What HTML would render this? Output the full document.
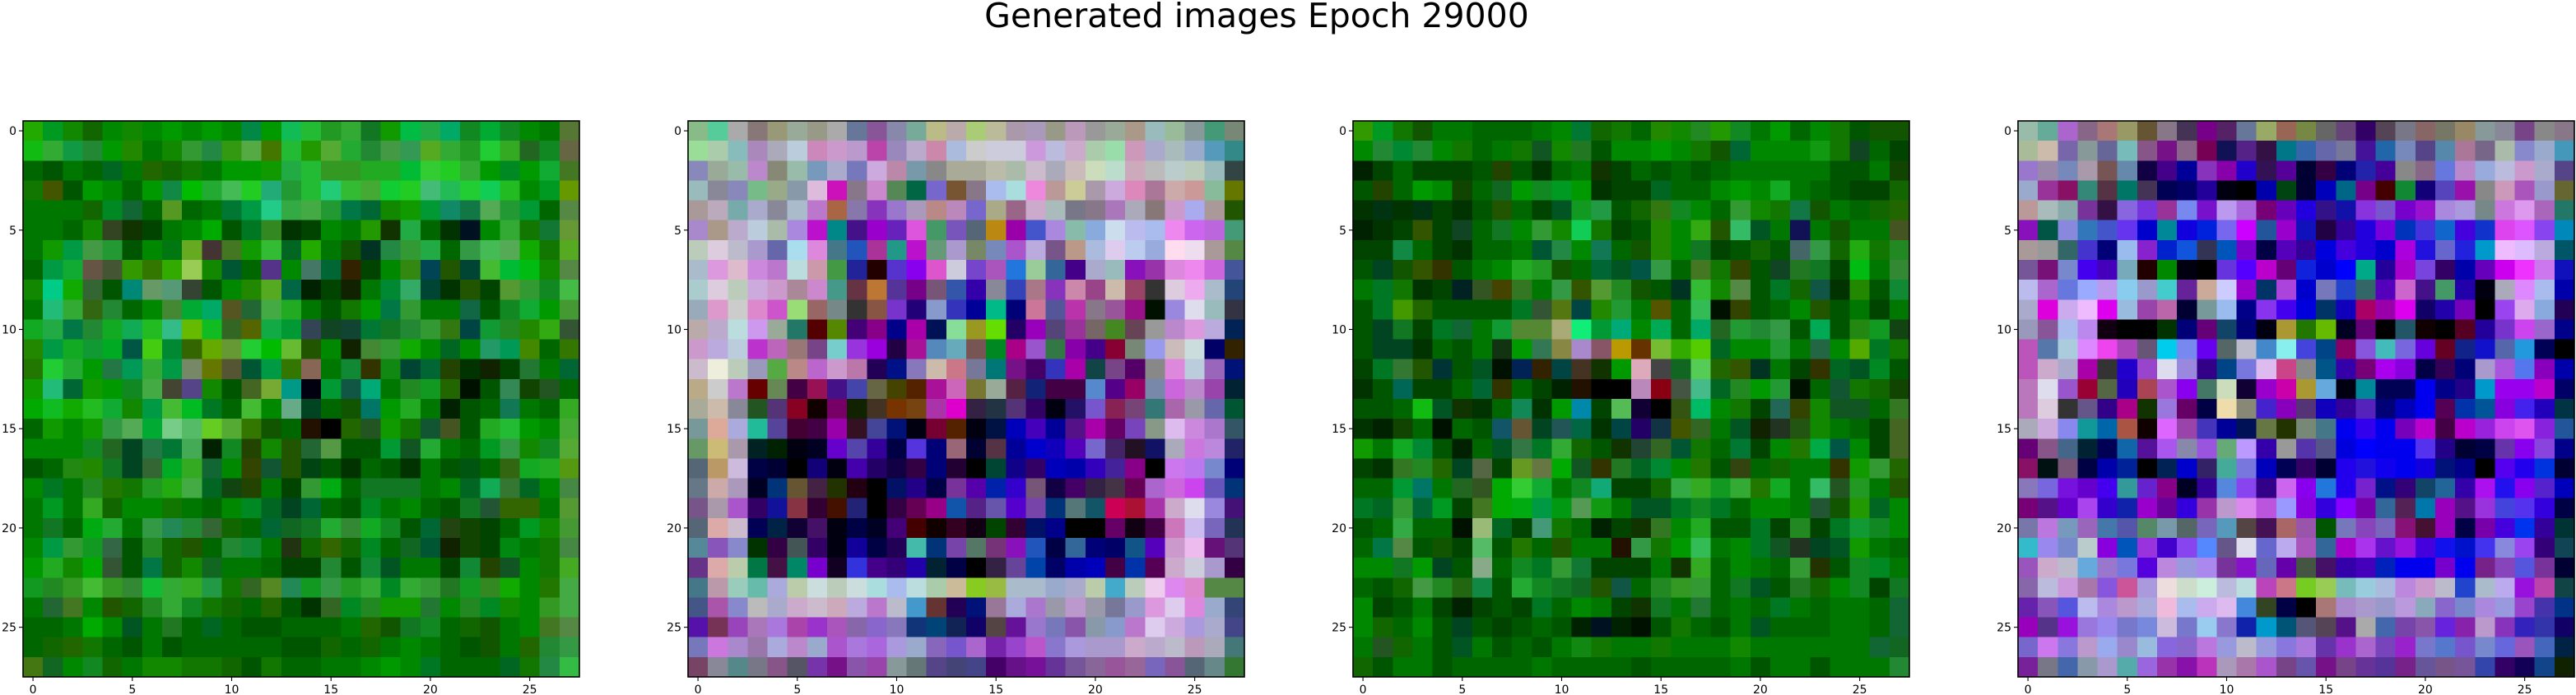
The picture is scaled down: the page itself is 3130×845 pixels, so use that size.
<!DOCTYPE html>
<html>
<head>
<meta charset="utf-8">
<style>
html,body{margin:0;padding:0;background:#fff;}
svg{display:block;}
text{font-family:"DejaVu Sans","Liberation Sans",sans-serif;fill:#000;}
</style>
</head>
<body>
<svg id="fig" width="3130" height="845" viewBox="0 0 3130 845" xmlns="http://www.w3.org/2000/svg">
<rect x="0" y="0" width="3130" height="845" fill="#fff"/>
<text x="1527" y="33" font-size="41" text-anchor="middle">Generated images Epoch 29000</text>
</svg>
<script>
const tickValues = [0, 5, 10, 15, 20, 25];
const gridSize = 28;
const img1 = [
"2a0 092 180 160 080 180 080 090 080 090 080 084 090 1b5 2b3 292 3a3 172 190 0b4 2a4 0a6 182 0a3 182 080 070 573",
"1b1 3a3 194 283 090 280 070 180 393 284 391 5a4 470 2b3 290 5a3 2a3 283 494 395 5a2 3a3 292 2c3 3a2 262 182 664",
"060 050 070 060 062 070 260 160 170 070 090 090 190 2a4 2b3 392 392 2a2 2a2 0b3 3c3 2c2 3a3 090 082 090 1a3 472",
"170 450 050 090 080 060 090 184 0b0 2a3 4b5 2c2 2a7 293 2b3 2c7 3b3 4a3 1c3 2c2 4b7 2b5 2c3 1c5 2b2 080 092 690",
"070 070 070 160 082 163 060 592 060 070 073 094 2c8 3a4 4a4 293 074 063 180 190 093 186 174 5a5 293 093 060 584",
"070 070 060 180 342 130 040 070 080 0a0 050 072 382 030 040 080 070 290 130 2a4 060 030 012 080 3a3 170 173 693",
"070 190 094 494 293 050 080 071 6a2 433 472 190 3b3 062 2a0 070 150 032 284 393 2a4 060 394 4b5 5a5 1a0 170 5a2",
"060 094 1a3 654 453 390 370 3a0 9c5 180 053 060 538 080 476 063 320 040 080 381 045 250 043 4b3 0b3 0b1 180 584",
"180 0c8 1a0 363 050 087 696 597 343 050 080 280 5a2 064 020 040 120 070 083 3a6 043 030 250 040 593 393 182 4b4",
"070 2b7 3a3 361 283 060 080 483 0a3 0a6 552 263 4a4 2a2 070 050 170 090 074 393 070 070 164 050 182 1a3 090 493",
"1a2 2a4 074 283 1a2 1a5 2b2 3b8 6b0 1b2 362 560 1a4 093 345 142 143 073 172 283 393 371 044 193 282 280 3a1 353",
"280 094 1a2 193 0a2 054 4c1 083 360 6a0 693 2c3 0b0 6b3 250 080 120 483 393 1a0 080 062 080 296 095 480 060 370",
"270 2c3 2a3 090 274 095 3a3 094 786 670 553 053 094 370 865 070 183 330 181 043 063 240 030 120 040 273 070 063",
"190 2b7 063 190 090 182 4a4 443 548 180 050 462 7a3 098 001 093 154 0a7 070 282 192 260 010 050 385 140 252 060",
"0a0 1b2 1a0 2b2 1a3 180 094 4b3 0b2 072 060 4b3 080 6a8 042 060 150 076 090 2a2 070 020 050 060 175 070 060 3a2",
"060 190 080 190 394 5a5 0a3 7c8 5b6 6c2 5a3 370 150 060 210 000 260 252 190 170 153 452 050 2a2 2b3 090 080 4a3",
"080 080 080 182 262 042 274 073 4a5 020 182 240 180 250 263 594 050 050 093 152 2a3 070 060 092 394 180 182 5a3",
"050 060 281 280 172 042 363 0a2 3a2 163 080 340 153 250 041 050 030 060 050 030 070 050 051 060 361 1a2 2a2 591",
"080 072 070 282 270 170 292 2a1 4a4 062 141 240 070 040 393 0a1 060 172 172 172 070 080 062 1a5 373 062 080 484",
"070 092 070 3a2 160 080 080 170 070 060 080 082 062 042 063 060 050 082 070 080 060 050 172 253 360 360 070 593",
"070 172 060 0a1 2a3 070 394 285 283 363 160 060 063 162 172 2a3 383 1a2 182 050 063 241 140 040 060 092 180 493",
"080 094 393 192 364 050 282 160 250 060 283 183 070 231 160 360 160 082 060 162 053 120 140 040 081 070 170 484",
"090 2a2 180 0a0 353 050 074 160 180 162 070 070 060 040 040 283 050 183 052 070 070 040 183 240 152 080 170 4a2",
"192 282 392 4b3 392 383 1b3 3a3 3a2 294 170 362 582 285 192 394 292 3a3 082 3a3 393 272 192 382 1a0 080 270 4a4",
"070 263 472 080 250 160 282 3a3 182 170 160 060 260 050 030 362 082 282 190 190 273 080 282 082 180 080 392 4a4",
"060 060 070 0a0 080 052 070 272 060 062 060 050 050 060 060 060 070 260 150 172 182 060 160 150 070 080 472 584",
"060 160 260 170 060 050 070 050 060 060 060 060 060 050 050 160 060 160 070 080 070 060 050 150 070 260 283 394",
"471 162 080 182 160 070 180 180 170 170 160 050 170 060 060 070 070 080 090 080 072 060 060 060 062 170 284 3b4"
];
const img2 = [
"8b8 5c9 aaa 877 997 9a9 998 aaa 679 859 88a 7a9 bb8 baa ac7 bb9 a9a a9b 998 b9b 999 9a9 a98 9bb 9b9 899 497 787",
"9d9 aca 8bb a8b aab bcd c8b c9c b9c b4a 98b bac c8a abd ccc ccd ccd c9d bbd cac aca 9da c9b aac abb 9ac 59b 388",
"88b 9a9 9ba b8c 887 9ba 79b aac 77b cad b8a 79a 888 aa9 aa9 bba aba cbc aab cbb cdb bdc cab bbb bcc bcb 9bb 344",
"9bb 889 88b 7b8 9a8 89a dbd c1b 878 c8c 585 064 76c 753 878 abe add e8d b99 cc9 a9a cad d8b a79 caa c99 8b9 670",
"a99 bab 7aa aac 889 abc b7c a64 87a 83b 97c a9b b88 b8b 76c aa8 968 cac abb 778 878 a7b aab 877 c9c aae a99 250",
"a8c a98 bac bcd aba a8d b1c 088 418 90c 62b d5d 496 75b 567 b81 90a 45c a8d 8ba 8ad cde bbe abe e8e c6e b6d 497",
"bcb dcd bbc a9c 66a ade d8d 478 25b a39 298 b1c 697 a9c 786 78b a5c bad 758 b98 abd dce bce 9ad fde ede a99 584",
"abc d9d dbc c8d b7c bdd c9a 494 229 200 53c 80e d5c ccd 74c a5b 27d 9c9 369 408 aac 9bb 81b 93a d8d e8e c6d 459",
"acc dcd bcb cad c9c a89 c8c 498 634 b73 539 708 757 35a 30a 889 34b a78 83b c8a 948 cba 946 333 dcd eae abc 247",
"9ab d9c ccc d8c c5c 9d7 966 788 333 854 73c 207 89c 33b 009 0b8 007 c79 559 b3a 878 959 918 010 98d dde 9bb 334",
"baa bac bdd c9e 9a9 276 500 580 407 808 008 a0a 015 8d9 992 6d0 206 90b 547 939 766 482 645 999 b8c d9d bad 025",
"c9c bad bcd b3c b6b 977 748 7cc 93d 90d 204 a19 58b 6ab 755 082 a08 95c 374 80a 408 803 787 99e cbb cdd 006 320",
"cbc eed bcb 99b 5a4 b88 b6c c9c b7a 205 018 87b cba c78 779 077 718 406 33b a0a 144 748 506 888 d8d bcd 96b 017",
"ba8 ccc b7c 600 685 404 915 418 44a 664 440 520 a19 c6b 773 9a9 524 127 404 404 58c 508 906 78a c6d b8c 94a 023",
"aa9 cba 889 252 537 802 100 706 120 432 730 741 a3a d0c 324 234 537 306 001 216 75c 825 747 377 a6a 99a 66a 053",
"799 da9 aad 2b9 549 403 404 90a 312 449 017 001 703 520 001 014 00b 40b 009 518 a0a 606 74b 898 dbe c8d a7c 356",
"696 cb7 a9a 022 020 001 002 60c 54a 309 004 53d 007 967 003 534 009 00c 10b 50b 76c 426 212 116 aab c7d b8d 226",
"567 b96 cbd 004 003 000 107 001 40a 206 104 304 007 203 000 043 108 306 00b 00a 30b 429 808 000 c7e b7e 78c 007",
"678 caa a9b 002 037 653 424 230 201 000 016 208 004 739 50a 02a 30c 757 104 406 324 434 605 a6c c6d c4e 65b 037",
"758 a9a a5c 306 119 834 303 410 227 000 304 605 908 15a 528 65a 50c 74a 037 577 156 c05 a13 a3a cac dde 98d 417",
"567 daa cbc 005 024 103 416 001 004 002 407 400 100 302 101 040 303 016 008 000 000 606 101 404 c7b cbe 76b 235",
"589 85b 88c 030 304 455 306 001 109 004 205 4ba 037 74a 576 737 81b 25b 004 369 007 006 158 50b c9c ebe 617 537",
"638 daa bca 074 414 086 70c 102 33d 408 307 20a 023 004 000 324 649 04a 006 00a 00b 404 03a 505 cac ccd a9c 304",
"478 b9a 9cb 6ba aad bca cdd bcb cdd add abe bdd aca cb9 8c2 9b4 abc abc 9ac aac bca 4ac bcb ece d8e d8c 584",
"458 a5a 88c bbb aac cac cbc cab bad b7c bbc 49c 633 205 017 979 aad a7c 99a b9c 99a 779 99c d9d dce d8d 9ac 347",
"51a 735 94b a7b a7d a4a 93c a5b 86a 86c 87b 137 047 125 106 544 619 97c 77b 85a 89a 89c b7c dce cad a9d aac 448",
"77b c7d a8c 97a aad b8c 9ac a5c a7d a6d a9d 9ac 86b 75c a6c 72a 94c b5c 87c a9d a9c a9c cac bac bbc b9b aab 477",
"746 889 588 778 858 556 73a 718 85a 94a 899 677 548 447 448 406 618 719 639 759 869 959 969 76b 859 567 688 373"
];
const img3 = [
"390 092 170 150 070 070 060 060 060 070 080 073 160 170 060 280 180 282 290 182 070 090 060 080 170 050 150 150",
"080 283 083 283 080 170 060 070 170 152 180 272 050 080 080 090 080 170 150 063 080 080 080 191 170 142 060 040",
"020 040 060 040 040 040 050 240 050 030 060 070 130 040 060 050 060 050 060 070 070 070 070 070 050 050 070 140",
"050 240 060 090 080 140 060 162 090 182 092 090 030 040 040 062 060 060 080 090 080 1a2 070 060 050 040 040 160",
"030 031 030 031 040 030 050 250 060 040 052 192 294 050 160 371 182 080 060 393 180 170 174 150 070 060 160 260",
"020 030 040 350 040 142 060 172 080 393 180 1c5 170 040 050 280 080 3a1 250 3b6 052 070 115 070 150 070 070 452",
"040 040 184 060 040 030 060 060 070 053 284 080 175 060 150 280 080 172 040 050 160 050 466 394 160 2a1 170 282",
"050 042 150 350 330 050 070 080 2a2 292 150 060 063 052 054 394 060 472 170 340 050 142 272 172 040 0b1 070 383",
"070 072 170 030 040 022 352 440 372 070 394 350 593 282 150 050 032 3b3 180 584 050 072 160 154 030 280 050 183",
"050 072 490 260 050 050 050 050 072 353 571 044 280 293 070 550 060 3b5 010 340 050 060 080 250 050 070 040 070",
"050 042 172 040 072 163 070 193 583 583 aa7 1e7 093 0a7 080 0a5 060 0a6 262 293 283 394 050 0a5 050 281 192 141",
"050 042 042 030 060 050 070 131 090 375 884 a8c 856 b90 630 7b3 3a0 5c0 062 080 080 293 070 264 080 5a0 072 170",
"040 072 373 250 033 050 052 010 025 320 044 432 130 090 dab 444 162 5c5 260 350 032 070 040 330 062 052 082 050",
"030 050 065 040 040 060 063 330 060 040 020 210 000 000 b8b 801 454 4b8 062 282 090 293 010 060 153 170 160 140",
"050 050 060 1b1 052 130 030 060 185 030 090 08a 040 5b5 103 000 351 0b6 080 170 040 265 340 180 152 152 060 372",
"030 020 140 060 010 060 050 156 653 042 255 064 030 044 206 134 450 362 070 052 120 232 251 180 070 060 040 462",
"190 070 1a2 083 050 020 060 052 374 072 3a3 160 050 130 243 362 053 170 060 073 040 080 270 0a4 054 080 040 462",
"040 030 372 282 260 042 564 040 692 674 0a0 152 330 272 062 083 080 270 050 341 060 160 070 070 330 190 393 260",
"060 060 093 076 070 262 352 0a0 3c3 1a3 070 182 1a7 040 040 160 3a4 3a2 192 3a3 270 1a2 070 3b6 252 292 070 250",
"072 062 393 063 092 040 472 0a0 0a1 094 091 595 191 070 052 052 072 182 072 060 080 080 070 253 150 290 062 080",
"050 060 3a4 060 060 010 9b7 062 040 497 170 060 020 040 130 372 080 2a2 050 050 072 040 282 040 072 193 182 080",
"060 074 584 050 150 040 5b6 050 270 060 250 070 070 210 394 170 090 3b5 070 080 072 152 232 042 052 190 070 060",
"080 080 172 090 042 050 8a8 060 182 072 393 173 040 040 040 070 130 3a2 060 080 070 060 393 230 050 182 082 070",
"060 050 160 494 282 261 184 050 2a3 182 172 162 250 154 060 282 392 393 060 172 052 050 272 160 080 182 040 172",
"080 040 050 070 040 020 040 050 040 072 060 080 070 040 130 172 070 273 060 070 060 072 070 060 070 070 060 163",
"080 160 060 080 050 042 050 040 050 060 050 020 012 020 010 050 170 060 050 070 052 060 060 060 070 070 060 163",
"070 252 160 070 050 052 070 050 060 050 070 181 170 070 070 170 070 070 070 180 070 070 070 070 070 070 163 162",
"160 050 070 070 050 060 060 060 060 070 060 060 060 060 050 060 060 060 060 070 050 070 070 050 070 070 070 283"
];
const img4 = [
"9ba 6a9 a6c 868 a77 996 653 878 435 708 526 679 9a6 965 784 666 647 306 545 778 866 776 986 899 889 748 888 878",
"ab9 cba 76a 899 669 7bb 858 718 868 705 115 528 314 078 36a 66a 779 419 26a 78b 548 58a a79 768 aba 88c 9ac 49b",
"97c 98a 78b a9a 755 68a 104 408 009 83b 80a 20c 315 509 003 304 007 22a 409 888 868 67d b8c 9ad bbd c9c aac 548",
"9ac 939 816 387 534 076 435 005 006 209 001 000 00a 041 003 00b 068 708 400 183 107 54b 91a 888 c9b a5b 99c 663",
"b99 abb 8aa 739 314 86d 73d 939 78e 71c b9e a6d 707 60b 20d 318 11a 83d 75c 70c 91c a8d a9d 788 c7d d9e a6b 276",
"81b 054 88d 37b 45c 63e 00c 089 10d 02d 76e c0f 259 90c 11b 204 309 20d 70d 03b 43d 16c 40d 13c d4e d5f 84e 08b",
"a99 999 366 43c 007 9be 82c 02c 15d 335 05b 70c 004 50b 309 00d 40d 20d 00c a0d 21d 66c 22d 09c ebf dbf bad 056",
"759 717 78c 40e 40b 7ab 200 080 001 000 63d 50f b0c 607 12d 00c 00f 0a8 209 a0c 74d 306 00a 60b c0e e3f c7e 11b",
"bbe a6c 67d 9af b9e 8ce 99c 4cc 629 ca9 ccf 90c 036 a4d 00c 77b 24c 366 50b c6c 418 496 20a 001 aab d8f abe 00a",
"aac d0d cae ebf d0e 9bd 94a b6a 003 799 9be 008 83e 40e 00d 036 10b a06 90a d0e 106 20a 70b 000 94e dae 8ad 205",
"99b 859 abe b8e 101 000 000 030 007 607 146 007 001 a93 270 6b0 002 607 000 256 100 000 502 209 73c c4e 96c 008",
"b5b 57a acd d8f e4e a4b 657 0ce 78e 60e 566 bbc 48c 8ee 44d 048 806 85d 4bb 76d 60d 602 128 11c 56a 29d 005 000",
"b5b cac aac a0a 333 20c 94c dde 98d 308 048 77d dbe c48 888 058 30a 707 a0e 80d 004 305 007 a9c a5d 57e 80b 00a",
"b7b dde 95c 903 564 20b a45 a5c 80e 476 cdb 103 90c c0a a93 6ad 001 089 005 005 00e 008 208 09c 90e 90e b0c 006",
"b7b dcd 333 658 308 a08 130 97d 606 004 eda 887 42c 80b 537 10b 309 52b 007 00b 00e 505 03a 059 80d 42e 20b 034",
"aab cad 88e 199 06a a54 100 d6f 94a 43b 009 015 674 230 787 478 00e 30e 00e 70b b0c 404 b0c 92d c4e d5e 82d 259",
"607 858 468 023 005 16a 519 a5e 88a 95d 6a7 b9f 30a 999 53a 558 00d 00f 00e 00e 53e 208 003 004 63a 80e 84d 008",
"816 011 757 004 00a 029 000 025 00c 326 4a9 77d 00b 005 306 003 20e 21d 10e 00e 10d 017 008 000 50e 20e 03d 003",
"87b 76d 71d 60c 40e 399 62c 808 002 309 58d 84e 308 c6e 80e 27d 20e 72c 018 307 146 269 30a a1e 21e 80e 52c 00b",
"707 518 60c a4e 30c 12a 90c 609 30d 93a b9c d8e b5d 99f 80d 30d 80f 70a 369 525 07a 90b 518 93d 44d 53e 30d 004",
"77a b7d 79b 96b 47a 55a 586 79a 566 76b 59b 544 415 a66 95a 050 77b 84b 76b 817 413 90b 004 70a 40d 03e 309 033",
"3bc 98e 78c bcc 80d 05b 93d 40c 84e 58f 658 dde 66c bae a5b 369 a0c a3e 61c 91d 40d 11e 01c 43e 88d 94e 307 145",
"95b cac bbc 6ad 97c 77d 50d b8d 99d a8e 739 81c 66b 60a 454 416 30a 40b 02b 00e 00e 70c 00e 728 84b 55d 739 003",
"86a bbd c9d a7a 85d c59 a9d edd cdc ced bbd bdd b4b c78 7c2 9c5 7bb 9cd abd b8d c9c bbc 24c abc bae 91d b4a 144",
"62a 85b 55d bbe a8d b9c aad ebd abe cae dbe 48d 342 004 000 a77 a8c a9c 99c b9d 8ab 86c 78c a8d 99d 94c 43a 038",
"90b 538 91d 97d 98e 77c 78d cbd 77c 9ce 87c 12a 09c 057 557 545 518 aaa 46a 74a 85a 62d 82a b9c 83b 32b 33a 106",
"76c c7e 87d b9c 9ae 98c 9bd 86d 86c b7d 99d bbc 99d 87d a7d 63a 93c a6c 74b 92c 77c 57c 75c 78c 66d 95b 46b 024",
"729 778 46a 89a a9c 5aa 96d 93a 81a b3b a9b a7a a5c 748 65a 718 748 639 539 728 659 758 759 34a 306 105 148 120"
];
const images = [img1, img2, img3, img4];

const NS = "http://www.w3.org/2000/svg";
const svg = document.getElementById("fig");
const panelLefts = [28, 836, 1644, 2452];
const panelTop = 147;
const panelSize = 676;
const cell = panelSize / gridSize;

function el(tag, attrs) {
  const e = document.createElementNS(NS, tag);
  for (const k in attrs) e.setAttribute(k, attrs[k]);
  return e;
}

images.forEach((img, p) => {
  const left = panelLefts[p];
  const xScale = v => left + (v + 0.5) * cell;
  const yScale = v => panelTop + (v + 0.5) * cell;
  const g = el("g", {});
  
  
  svg.appendChild(g);
  const cells = el("g", {"shape-rendering": "crispEdges"});
  
  
  g.appendChild(cells);
  img.forEach((row, r) => {
    const cols = row.trim().split(/\s+/);
    for (let c = 0; c < gridSize; c++) {
      const hex = cols[c] || cols[cols.length - 1];
      const x0 = left + c * cell, y0 = panelTop + r * cell;
      const rc = el("rect", {x: x0.toFixed(2), y: y0.toFixed(2), width: (cell + 0.6).toFixed(2), height: (cell + 0.6).toFixed(2), fill: "#" + hex});
      
      
      cells.appendChild(rc);
    }
  });
  const frame = el("rect", {x: left, y: panelTop, width: panelSize, height: panelSize, fill: "none", stroke: "#000", "stroke-width": 1.6});
  
  
  g.appendChild(frame);
  tickValues.forEach(v => {
    const x = xScale(v);
    const tx = el("line", {x1: x, y1: panelTop + panelSize, x2: x, y2: panelTop + panelSize + 5, stroke: "#000", "stroke-width": 1.1});
    
    
    g.appendChild(tx);
    const tl = el("text", {x: x, y: panelTop + panelSize + 20, "font-size": 14, "text-anchor": "middle"});
    tl.textContent = v;
    
    
    g.appendChild(tl);
    const y = yScale(v);
    const ty = el("line", {x1: left - 5, y1: y, x2: left, y2: y, stroke: "#000", "stroke-width": 1.1});
    
    
    g.appendChild(ty);
    const yl = el("text", {x: left - 8, y: y + 5, "font-size": 14, "text-anchor": "end"});
    yl.textContent = v;
    
    
    g.appendChild(yl);
  });
});
</script>
</body>
</html>
